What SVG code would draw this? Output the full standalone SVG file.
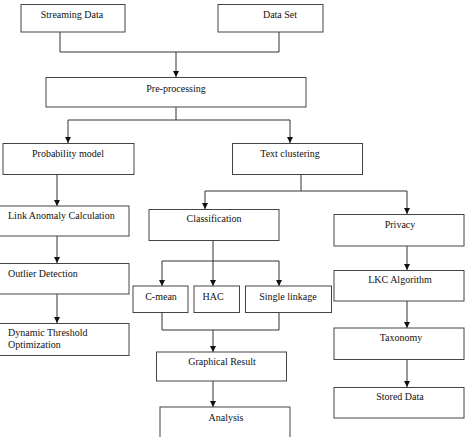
<svg xmlns="http://www.w3.org/2000/svg" width="466" height="437" viewBox="0 0 466 437">
<style>
rect{fill:#fff;stroke:#444;stroke-width:1}
text{font-family:"Liberation Serif","Times New Roman",serif;font-size:10px;fill:#111}
.c{text-anchor:middle}
.l{fill:none;stroke:#333;stroke-width:1}
</style>
<defs>
<marker id="ah" viewBox="0 0 8 8" refX="8" refY="4" markerWidth="6" markerHeight="6" orient="auto" markerUnits="userSpaceOnUse">
<path d="M0,0 L8,4 L0,8 z" fill="#111"/>
</marker>
</defs>
<rect width="466" height="437" style="fill:#fff;stroke:none"/>
<g id="connectors">
<path class="l" d="M60,32 V52 H279 V32"/>
<path class="l" d="M176,52 V77" marker-end="url(#ah)"/>
<path class="l" d="M176,107 V120 M68,120 H290"/>
<path class="l" d="M68,120 V143" marker-end="url(#ah)"/>
<path class="l" d="M290,120 V143" marker-end="url(#ah)"/>
<path class="l" d="M57,175 V206" marker-end="url(#ah)"/>
<path class="l" d="M57,236 V263" marker-end="url(#ah)"/>
<path class="l" d="M57,294 V323" marker-end="url(#ah)"/>
<path class="l" d="M301,175 V191 M205,191 H407"/>
<path class="l" d="M205,191 V209" marker-end="url(#ah)"/>
<path class="l" d="M407,191 V214" marker-end="url(#ah)"/>
<path class="l" d="M213,241 V286" marker-end="url(#ah)"/>
<path class="l" d="M162,261 H279"/>
<path class="l" d="M162,261 V286" marker-end="url(#ah)"/>
<path class="l" d="M279,261 V286" marker-end="url(#ah)"/>
<path class="l" d="M162,312 V330 H279 V312"/>
<path class="l" d="M213,330 V352" marker-end="url(#ah)"/>
<path class="l" d="M213,381 V407" marker-end="url(#ah)"/>
<path class="l" d="M407,246 V270" marker-end="url(#ah)"/>
<path class="l" d="M407,301 V328" marker-end="url(#ah)"/>
<path class="l" d="M407,359 V387" marker-end="url(#ah)"/>
</g>
<g id="streaming"><rect x="21" y="4.5" width="104" height="27.5"/><text class="c" x="72" y="18">Streaming Data</text></g>
<g id="dataset"><rect x="218" y="4.5" width="105" height="27.5"/><text class="c" x="280" y="18">Data Set</text></g>
<g id="preprocessing"><rect x="46" y="77.5" width="260" height="29.5"/><text class="c" x="176" y="92">Pre-processing</text></g>
<g id="probability"><rect x="3" y="143.5" width="131" height="31"/><text class="c" x="68" y="157">Probability model</text></g>
<g id="textclustering"><rect x="232.5" y="143.5" width="130" height="31"/><text class="c" x="290" y="157">Text clustering</text></g>
<g id="linkanomaly"><rect x="-1" y="206" width="130" height="30"/><text x="8" y="219">Link Anomaly Calculation</text></g>
<g id="outlier"><rect x="-1" y="263.5" width="130" height="30.5"/><text x="8" y="277">Outlier Detection</text></g>
<g id="dynamic"><rect x="-1" y="323.5" width="130" height="32"/><text x="8" y="336">Dynamic Threshold</text><text x="8" y="348">Optimization</text></g>
<g id="classification"><rect x="149" y="209.5" width="130" height="31"/><text class="c" x="214" y="222">Classification</text></g>
<g id="privacy"><rect x="334" y="214.5" width="130" height="31.5"/><text class="c" x="400" y="228">Privacy</text></g>
<g id="cmean"><rect x="133" y="286" width="55" height="26.5"/><text class="c" x="161" y="300">C-mean</text></g>
<g id="hac"><rect x="194" y="286" width="45.5" height="26.5"/><text class="c" x="213" y="300">HAC</text></g>
<g id="singlelinkage"><rect x="245.5" y="286" width="86" height="26.5"/><text class="c" x="288" y="300">Single linkage</text></g>
<g id="lkc"><rect x="334" y="270.5" width="130" height="30.5"/><text class="c" x="400" y="283">LKC Algorithm</text></g>
<g id="taxonomy"><rect x="334" y="328" width="130" height="31.5"/><text class="c" x="401" y="341">Taxonomy</text></g>
<g id="graphical"><rect x="156.5" y="352" width="130" height="29"/><text class="c" x="222" y="365">Graphical Result</text></g>
<g id="stored"><rect x="334" y="387.5" width="130" height="30.5"/><text class="c" x="400" y="400">Stored Data</text></g>
<g id="analysis"><rect x="160" y="407" width="130" height="35"/><text class="c" x="226" y="421">Analysis</text></g>
</svg>
